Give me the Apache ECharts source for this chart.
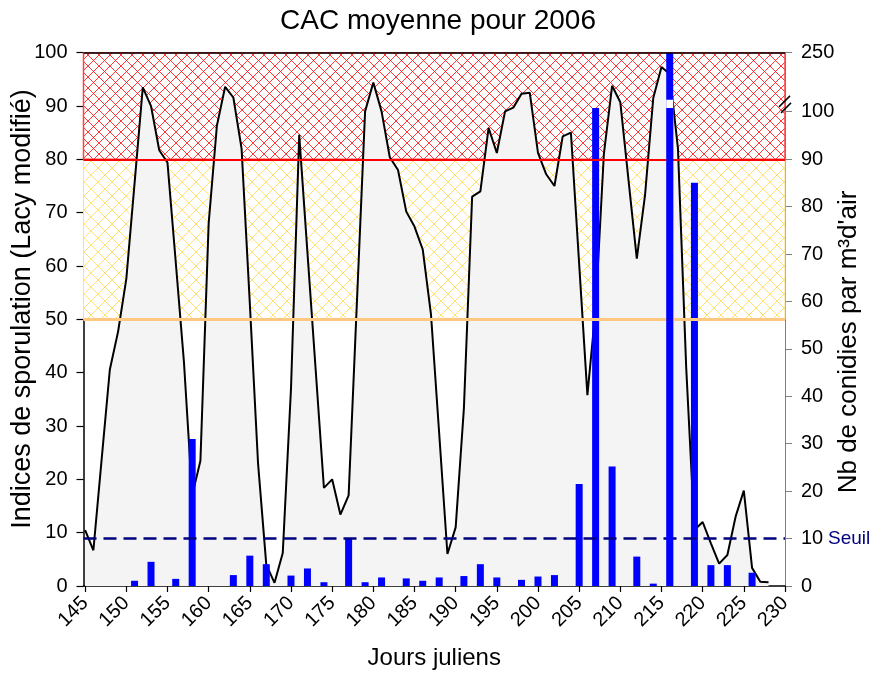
<!DOCTYPE html>
<html><head><meta charset="utf-8">
<script src="https://cdn.jsdelivr.net/npm/echarts@6/dist/echarts.min.js"></script>
<style>html,body{margin:0;padding:0;background:#fff}#c{width:876px;height:675px}</style>
</head><body><div id="c"></div>
<script>
// ---------------- data ----------------
const chartTitle = 'CAC moyenne pour 2006';
const xName = 'Jours juliens';
const leftName = 'Indices de sporulation (Lacy modifié)';
const rightName = "Nb de conidies par m³d'air";
const days = [145,146,147,148,149,150,151,152,153,154,155,156,157,158,159,160,161,162,163,164,
  165,166,167,168,169,170,171,172,173,174,175,176,177,178,179,180,181,182,183,184,
  185,186,187,188,189,190,191,192,193,194,195,196,197,198,199,200,201,202,203,204,
  205,206,207,208,209,210,211,212,213,214,215,216,217,218,219,220,221,222,223,224,
  225,226,227,228];
const sporulation = [10.5,6.7,23.7,40.6,47.7,57.6,75.5,93.5,90,81.7,79.4,60.8,42,17,23.5,68,86.3,93.6,91.6,82,
  53,23,4,0.6,6.2,37,84.6,62.5,40.5,18.4,20,13.4,17,53,89,94.4,89,80.4,78,70.2,
  67.4,63.1,51,28.6,6,11,33.3,73,74,85.9,81.2,89,89.7,92.3,92.5,81.2,77.2,75,84.3,85,
  60.4,35.8,52,81,93.8,90.7,76,61.4,73.3,91.5,97.3,96,82,41,10.5,12,8,4.2,5.8,13,
  17.9,3.4,0.8,0.7];
const conidiaDays = [151,153,156,158,163,165,167,170,172,174,177,179,181,184,186,188,
  191,193,195,198,200,202,205,207,209,212,214,216,219,221,223,226];
const conidiaCounts = [1.1,5.1,1.5,31,2.3,6.4,4.6,2.2,3.7,0.8,10,0.8,1.8,1.6,1.1,1.8,
  2.1,4.6,1.8,1.3,2.0,2.3,21.5,101,25.2,6.2,0.5,250,85,4.4,4.4,2.8];
const xTicks = [145,150,155,160,165,170,175,180,185,190,195,200,205,210,215,220,225,230];
const rightTicks = [0,10,20,30,40,50,60,70,80,90,100];
const rightTopLabel = 250;
const seuil = 10;
const seuilLabel = 'Seuil';
const yellowZone = [50, 80];
const redZone = [80, 100];

// ---------------- broken right axis (display units) ----------------
const LOW_MAX = 100.8, GAP_TOP = 102.5, D_MAX = 112.44, UPPER_FROM = 200, UPPER_TO = 250;
const toDisplay = v => v <= LOW_MAX ? v :
  (v > UPPER_FROM ? GAP_TOP + (Math.min(v, UPPER_TO) - UPPER_FROM) / (UPPER_TO - UPPER_FROM) * (D_MAX - GAP_TOP) : LOW_MAX);
const breakCover = v => v > UPPER_FROM ? GAP_TOP : 0;
const breakBelow = v => v > UPPER_FROM ? LOW_MAX : 0;

const FONT = "'Liberation Sans', Arial, sans-serif";

function hatch(size, color, lw) {
  const c = document.createElement('canvas');
  c.width = size; c.height = size;
  const g = c.getContext('2d');
  g.fillStyle = '#ffffff'; g.fillRect(0, 0, size, size);
  g.strokeStyle = color; g.lineWidth = lw;
  g.beginPath();
  g.moveTo(0, 0); g.lineTo(size, size);
  g.moveTo(size, 0); g.lineTo(0, size);
  g.stroke();
  return c;
}
const redPattern = { image: hatch(11, '#ff2020', 0.9), repeat: 'repeat' };
const yellowPattern = { image: hatch(14, '#ffe070', 1), repeat: 'repeat' };

const chart = echarts.init(document.getElementById('c'), null, { renderer: 'canvas' });

const lineData = days.map((d, i) => [d, sporulation[i]]);
const barMain = conidiaDays.map((d, i) => [d, toDisplay(conidiaCounts[i])]);
const barWhite = conidiaDays.map((d, i) => [d, breakCover(conidiaCounts[i])]);
const barBelow = conidiaDays.map((d, i) => [d, breakBelow(conidiaCounts[i])]);

const option = {
  animation: false,
  backgroundColor: '#ffffff',
  textStyle: { fontFamily: FONT },
  title: {
    text: chartTitle, left: 'center', top: 2,
    textStyle: { fontSize: 28, fontWeight: 'normal', color: '#000', fontFamily: FONT }
  },
  grid: { left: 83.5, right: 91, top: 52.7, bottom: 87.3, containLabel: false },
  xAxis: {
    type: 'value', min: 144.8, max: 230,
    name: xName, nameLocation: 'middle', nameGap: 60,
    nameTextStyle: { fontSize: 24, color: '#000', fontFamily: FONT },
    axisLine: { show: true, onZero: false, lineStyle: { color: '#000', width: 1.5 } },
    axisTick: { show: true, length: 6, customValues: xTicks, lineStyle: { color: '#000', width: 1.2 } },
    axisLabel: { customValues: xTicks, rotate: 45, fontSize: 20, color: '#000', margin: 14, fontFamily: FONT },
    splitLine: { show: false }
  },
  yAxis: [
    {
      type: 'value', min: 0, max: 100, interval: 10, position: 'left',
      axisLine: { show: true, lineStyle: { color: '#000', width: 1.5 } },
      axisTick: { show: true, length: 7, lineStyle: { color: '#000', width: 1.2 } },
      axisLabel: { fontSize: 20, color: '#000', margin: 16, fontFamily: FONT },
      splitLine: { show: false }
    },
    {
      type: 'value', min: 0, max: D_MAX, position: 'right',
      axisLine: { show: true, lineStyle: { color: '#808080', width: 1 } },
      axisTick: { show: true, length: 7, customValues: rightTicks.concat([D_MAX]), lineStyle: { color: '#808080', width: 1 } },
      axisLabel: {
        customValues: rightTicks.concat([D_MAX]), fontSize: 20, color: '#000', margin: 16, fontFamily: FONT,
        formatter: v => (v > 105 ? String(rightTopLabel) : String(Math.round(v)))
      },
      splitLine: { show: false }
    }
  ],
  series: [
    {
      name: 'zones', type: 'line', data: [], yAxisIndex: 0, z: 1, silent: true,
      markArea: {
        silent: true,
        data: [
          [{ yAxis: yellowZone[0], itemStyle: { color: yellowPattern, borderColor: '#ffe27a', borderWidth: 1 } }, { yAxis: yellowZone[1] }],
          [{ yAxis: redZone[0], itemStyle: { color: redPattern, borderColor: '#ff4040', borderWidth: 1.5 } }, { yAxis: redZone[1] }]
        ]
      },
      markLine: {
        silent: true, symbol: 'none', label: { show: false },
        data: [
          { yAxis: yellowZone[0], lineStyle: { color: '#ffc880', width: 3, type: 'solid' } },
          { yAxis: redZone[0], lineStyle: { color: '#ff0000', width: 2, type: 'solid' } },
          { yAxis: redZone[1], lineStyle: { color: '#000000', width: 1.5, type: 'solid' } }
        ]
      }
    },
    {
      name: 'sporulation', type: 'line', data: lineData, yAxisIndex: 0, z: 2,
      symbol: 'none', smooth: false,
      lineStyle: { color: '#000', width: 2 },
      areaStyle: { color: '#f4f4f4', opacity: 1 }
    },
    {
      name: 'conidies', type: 'bar', data: barMain, yAxisIndex: 1, z: 3,
      barWidth: 7, barGap: '-100%', itemStyle: { color: '#0000ff' }
    },
    {
      name: 'coupure', type: 'bar', data: barWhite, yAxisIndex: 1, z: 4,
      barWidth: 7, barGap: '-100%', itemStyle: { color: '#ffffff' }
    },
    {
      name: 'conidiesBas', type: 'bar', data: barBelow, yAxisIndex: 1, z: 5,
      barWidth: 7, barGap: '-100%', itemStyle: { color: '#0000ff' },
      markLine: {
        silent: true, symbol: 'none',
        lineStyle: { color: '#000080', width: 2.5, type: [13, 7] },
        label: { show: true, position: 'end', formatter: seuilLabel, color: '#000080', fontSize: 19, distance: 43, fontFamily: FONT },
        data: [{ yAxis: seuil }]
      }
    }
  ]
};
chart.setOption(option);

// axis names and break symbol
const axX = chart.convertToPixel({ xAxisIndex: 0 }, 230);
const brY = chart.convertToPixel({ yAxisIndex: 1 }, (LOW_MAX + GAP_TOP) / 2);
chart.setOption({
  graphic: [
    { type: 'text', x: 23, y: 309, rotation: Math.PI / 2,
      style: { text: leftName, font: "27px 'Liberation Sans', Arial, sans-serif", fill: '#000', align: 'center', verticalAlign: 'middle' } },
    { type: 'text', x: 849, y: 342, rotation: Math.PI / 2,
      style: { text: rightName, font: "26px 'Liberation Sans', Arial, sans-serif", fill: '#000', align: 'center', verticalAlign: 'middle' } },
    { type: 'line', shape: { x1: axX - 6, y1: brY + 3, x2: axX + 5, y2: brY - 8 }, style: { stroke: '#000', lineWidth: 1.5 }, z: 100 },
    { type: 'line', shape: { x1: axX - 4, y1: brY + 9, x2: axX + 6, y2: brY - 1 }, style: { stroke: '#000', lineWidth: 1.5 }, z: 100 }
  ]
});
</script></body></html>
